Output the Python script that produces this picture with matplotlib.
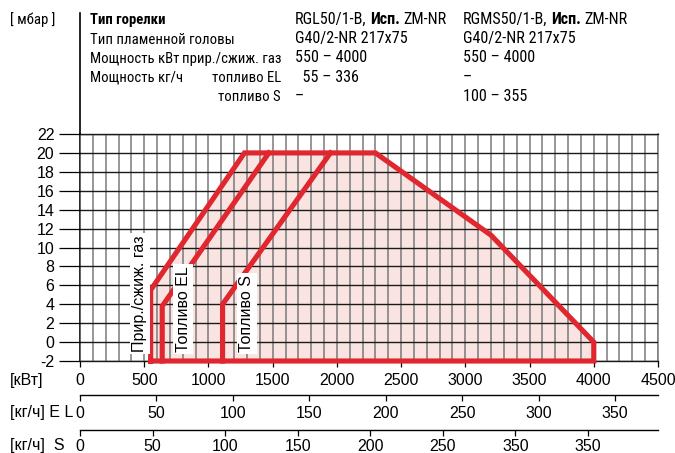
import matplotlib
matplotlib.use("Agg")
import matplotlib.pyplot as plt
from matplotlib.ticker import MultipleLocator, FixedLocator, FixedFormatter
from matplotlib.lines import Line2D
from matplotlib import font_manager

# ---- data -------------------------------------------------------------
kw_ticks = [0, 500, 1000, 1500, 2000, 2500, 3000, 3500, 4000, 4500]
mbar_ticks = [-2, 0, 2, 4, 6, 8, 10, 12, 14, 16, 18, 20, 22]

# working field, natural / liquid gas
gas_kw = [550, 550, 1280, 2300, 3200, 4000, 4000, 550]
gas_mbar = [-2, 5.5, 20, 20, 11.3, 0, -2, -2]
# oil EL start line
el_kw = [640, 640, 1470]
el_mbar = [-2, 3.8, 20]
# oil S start line
s_kw = [1110, 1110, 1950]
s_mbar = [-2, 4.0, 20]

el_ticks = [0, 50, 100, 150, 200, 250, 300, 350]
el_tick_labels = ["0", "50", "100", "150", "200", "250", "300", "350"]
s_ticks = [0, 50, 100, 150, 200, 250, 300, 350]
s_tick_labels = ["0", "50", "100", "150", "200", "250", "350", "350"]

header_rows = [
    ("Тип пламенной головы", "", "G40/2-NR 217x75", "G40/2-NR 217x75"),
    ("Мощность кВт", "прир./сжиж. газ", "550 – 4000", "550 – 4000"),
    ("Мощность кг/ч", "топливо EL", "  55 – 336", "–"),
    ("", "топливо S", "–", "100 – 355"),
]

# ---- style ------------------------------------------------------------
plt.rcParams["font.family"] = ["Liberation Sans", "DejaVu Sans"]
plt.rcParams["axes.unicode_minus"] = False

# header typeface: a narrow sans if one is installed, else regular at smaller size
_narrow_files = {}
for _f in font_manager.fontManager.ttflist:
    _nm = _f.name.lower()
    _cond = ("narrow" in _nm or "condensed" in _nm
             or str(_f.stretch) in ("condensed", "semi-condensed", "extra-condensed", "75", "87"))
    if _cond and not _f.style == "italic":
        _narrow_files.setdefault(_f.weight in (700, "bold"), []).append(_f)


def _pick(bold):
    pref = ["liberation sans narrow", "roboto condensed", "open sans condensed",
            "noto sans", "roboto", "open sans", "dejavu sans"]
    cands = _narrow_files.get(bold, [])
    for p in pref:
        for f in cands:
            if f.name.lower().startswith(p):
                return font_manager.FontProperties(fname=f.fname)
    return None


_hn = _pick(False)
_hb = _pick(True)
if _hn is not None:
    LBL_SIZE, VAL_SIZE = 10.6, 11.6
    HEAD = _hn
    HEAD_B = _hb if _hb is not None else font_manager.FontProperties(
        family=_hn.get_name(), weight="bold")
else:
    LBL_SIZE, VAL_SIZE = 9.4, 10.2
    HEAD = font_manager.FontProperties(family=["Liberation Sans", "DejaVu Sans"])
    HEAD_B = font_manager.FontProperties(family=["Liberation Sans", "DejaVu Sans"],
                                         weight="bold")


def hprop(bold=False, size=None):
    p = (HEAD_B if bold else HEAD).copy()
    p.set_size(size)
    return p


RED = "#e0262e"
FILL = "#f9e4e2"
W, H = 675, 453


def fx(px):
    return px / W


def fy(py):
    return 1 - py / H


fig = plt.figure(figsize=(6.75, 4.53), dpi=100)

# ---- main diagram -----------------------------------------------------
ax = fig.add_axes([fx(80), fy(361), fx(658) - fx(80), fy(134) - fy(361)])
ax.set_xlim(0, 4500)
ax.set_ylim(-2, 22)

ax.fill(gas_kw, gas_mbar, color=FILL, zorder=1, lw=0)
for xs, ys in ((gas_kw, gas_mbar), (el_kw, el_mbar), (s_kw, s_mbar)):
    ax.plot(xs, ys, color=RED, lw=3.7, solid_joinstyle="miter",
            clip_on=False, zorder=3)

ax.xaxis.set_major_locator(FixedLocator(kw_ticks))
ax.xaxis.set_minor_locator(MultipleLocator(100))
ax.yaxis.set_major_locator(FixedLocator(mbar_ticks))
ax.set_axisbelow(False)
ax.xaxis.grid(True, which="both", color="#7a7a7a", lw=1.1)
ax.yaxis.grid(True, which="major", color="#1a1a1a", lw=1.0)

ax.tick_params(axis="x", which="major", direction="out", length=4.5, width=0.9,
               pad=4, labelsize=11.5, colors="black")
ax.tick_params(axis="x", which="minor", length=0)
ax.tick_params(axis="y", which="major", direction="out", length=15, width=0.9,
               pad=3.5, labelsize=11.5)

for side in ("top", "bottom"):
    ax.spines[side].set_color("#1a1a1a")
    ax.spines[side].set_linewidth(1.0)
ax.spines["right"].set_color("#7a7a7a")
ax.spines["right"].set_linewidth(1.1)
ax.spines["left"].set_color("black")
ax.spines["left"].set_linewidth(1.2)

label_box = dict(facecolor="white", edgecolor="none", pad=1.5)
ax.text(467, -1.05, "Прир./сжиж. газ", rotation=90, ha="center", va="bottom",
        fontsize=11.5, bbox=label_box, zorder=4)
ax.text(802, -1.05, "Топливо EL", rotation=90, ha="center", va="bottom",
        fontsize=11.5, bbox=label_box, zorder=4)
ax.text(1300, -1.05, "Топливо S", rotation=90, ha="center", va="bottom",
        fontsize=11.5, bbox=label_box, zorder=4)

# left spine continues up through the header
fig.add_artist(Line2D([fx(80), fx(80)], [fy(13), fy(134)], color="black",
                      lw=1.2, transform=fig.transFigure))

# ---- secondary mass-flow scales ---------------------------------------
def scale_axis(y_px, xmax, ticks, labels, pad):
    a = fig.add_axes([fx(80), fy(y_px), fx(658) - fx(80), 0.0001])
    a.set_xlim(0, xmax)
    a.set_ylim(0, 1)
    a.patch.set_visible(False)
    for side in ("top", "left", "right"):
        a.spines[side].set_visible(False)
    a.spines["bottom"].set_linewidth(1.0)
    a.set_yticks([])
    a.xaxis.set_major_locator(FixedLocator(ticks))
    a.xaxis.set_major_formatter(FixedFormatter(labels))
    a.tick_params(axis="x", direction="out", length=4, width=0.9, pad=pad,
                  labelsize=11.5)
    return a


scale_axis(395, 378.1, el_ticks, el_tick_labels, 4)
scale_axis(430, 398.2, s_ticks, s_tick_labels, 2.5)

fig.text(fx(10), fy(385), "[кВт]", fontsize=11.5, va="baseline")
fig.text(fx(10), fy(417), "[кг/ч] E L", fontsize=11.5, va="baseline")
fig.text(fx(10), fy(450), "[кг/ч]  S", fontsize=11.5, va="baseline")

# ---- header table -----------------------------------------------------
fig.text(fx(10), fy(24), "[ мбар ]", fontproperties=hprop(False, LBL_SIZE),
         va="baseline")
fig.text(fx(90), fy(24), "Тип горелки", fontproperties=hprop(True, LBL_SIZE),
         va="baseline")


def model_title(x_px, name):
    t1 = fig.text(fx(x_px), fy(24), name + ",", fontproperties=hprop(False, VAL_SIZE),
                  va="baseline")
    a2 = plt.annotate("Исп.", xy=(1, 0), xycoords=t1, xytext=(2.5, 0),
                      textcoords="offset points", fontproperties=hprop(True, VAL_SIZE),
                      va="bottom", annotation_clip=False)
    plt.annotate("ZM-NR", xy=(1, 0), xycoords=a2, xytext=(2.5, 0),
                 textcoords="offset points", fontproperties=hprop(False, VAL_SIZE),
                 va="bottom", annotation_clip=False)


model_title(295, "RGL50/1-B")
model_title(463, "RGMS50/1-B")

row_baselines = [43.5, 62.5, 81.5, 101]
for (left, sub, c2, c3), yb in zip(header_rows, row_baselines):
    if left:
        fig.text(fx(90), fy(yb), left, fontproperties=hprop(False, LBL_SIZE),
                 va="baseline")
    if sub:
        fig.text(fx(281), fy(yb), sub, ha="right",
                 fontproperties=hprop(False, LBL_SIZE), va="baseline")
    fig.text(fx(295), fy(yb), c2, fontproperties=hprop(False, VAL_SIZE), va="baseline")
    fig.text(fx(463), fy(yb), c3, fontproperties=hprop(False, VAL_SIZE), va="baseline")

fig.savefig("out.png", dpi=100)
